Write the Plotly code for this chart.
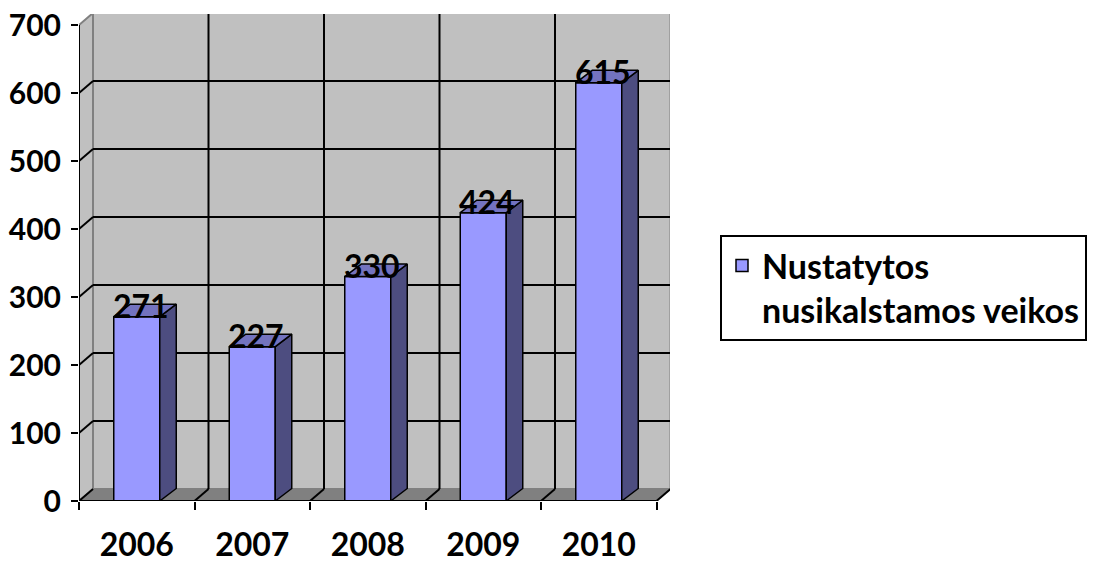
import plotly.graph_objects as go

years = ["2006", "2007", "2008", "2009", "2010"]
values = [271, 227, 330, 424, 615]
y_ticks = [0, 100, 200, 300, 400, 500, 600, 700]
series_name = "Nustatytos<br>nusikalstamos veikos"

# the page body has an 8px margin; all pixel positions below are compensated for it
OFF = 8
W, H = 1103 - OFF, 561 - OFF
L, R, T, B = 79 - OFF, 670 - OFF, 14 - OFF, 501 - OFF
cat_px = (656.5 - 79) / 5
unit_px = (501 - 25) / 700
x_range = [-0.5, -0.5 + (R - L) / cat_px]
y_range = [0, (B - T) / unit_px]
dx = 14 / cat_px
dy = 12 / unit_px
bdx = 16.5 / cat_px
bdy = 12.5 / unit_px
bw = 46 / cat_px
ymax = y_ticks[-1]
n = len(years)
x0, x1 = -0.5, n - 0.5

FONT = "Lato"
WALL = "#C0C0C0"
FLOOR = "#808080"
EDGE = "#808080"

shapes = []
shapes.append(dict(type="rect", xref="x", yref="y", x0=x0 + dx, x1=x1 + dx, y0=dy, y1=ymax + dy,
                   fillcolor=WALL, line=dict(color=EDGE, width=2), layer="below"))
shapes.append(dict(type="path", xref="x", yref="y",
                   path=f"M {x0},0 L {x0+dx},{dy} L {x0+dx},{ymax+dy} L {x0},{ymax} Z",
                   fillcolor=WALL, line=dict(color=EDGE, width=2), layer="below"))
shapes.append(dict(type="path", xref="x", yref="y",
                   path=f"M {x0},0 L {x1},0 L {x1+dx},{dy} L {x0+dx},{dy} Z",
                   fillcolor=FLOOR, line=dict(color=FLOOR, width=1), layer="below"))
for v in y_ticks[1:-1]:
    shapes.append(dict(type="line", xref="x", yref="y", x0=x0 + dx, x1=x1 + dx, y0=v + dy, y1=v + dy,
                       line=dict(color="black", width=2), layer="below"))
    shapes.append(dict(type="line", xref="x", yref="y", x0=x0, x1=x0 + dx, y0=v, y1=v + dy,
                       line=dict(color="black", width=2), layer="below"))
for i in range(1, n):
    b = i - 0.5
    shapes.append(dict(type="line", xref="x", yref="y", x0=b + dx, x1=b + dx, y0=dy, y1=ymax + dy,
                       line=dict(color="black", width=2), layer="below"))
for i in range(n + 1):
    b = i - 0.5
    shapes.append(dict(type="line", xref="x", yref="y", x0=b, x1=b + dx, y0=0, y1=dy,
                       line=dict(color="black", width=2), layer="below"))
shapes.append(dict(type="line", xref="x", yref="y", x0=x0, x1=x0, y0=0, y1=ymax,
                   line=dict(color="black", width=2), layer="above"))
shapes.append(dict(type="line", xref="x", yref="y", x0=x0, x1=x1, y0=0, y1=0,
                   line=dict(color="black", width=2), layer="above"))

fig = go.Figure()
xs_idx = list(range(n))
fig.add_trace(go.Bar(x=xs_idx, y=values, width=bw, name=series_name,
                     marker=dict(color="#9999FF", line=dict(color="black", width=1.5)),
                     hoverinfo="skip"))

sx, sy, tx, ty = [], [], [], []
for i, v in zip(xs_idx, values):
    r = i + bw / 2
    l = i - bw / 2
    sx += [r, r + bdx, r + bdx, r, r, None]
    sy += [0, bdy, v + bdy, v, 0, None]
    tx += [l, r, r + bdx, l + bdx, l, None]
    ty += [v, v, v + bdy, v + bdy, v, None]
fig.add_trace(go.Scatter(x=sx, y=sy, mode="lines", fill="toself", fillcolor="#4D4D80",
                         line=dict(color="black", width=1.5), showlegend=False, hoverinfo="skip"))
fig.add_trace(go.Scatter(x=tx, y=ty, mode="lines", fill="toself", fillcolor="#7373BF",
                         line=dict(color="black", width=1.5), showlegend=False, hoverinfo="skip"))

annotations = []
for i, v in zip(xs_idx, values):
    annotations.append(dict(x=i, y=v, xref="x", yref="y", text=str(v), showarrow=False,
                            xshift=4, yshift=11, yanchor="middle",
                            font=dict(family=FONT, size=32, color="black", weight="bold")))

fig.update_layout(
    template="none",
    width=W, height=H,
    margin=dict(l=L, r=W - R, t=T, b=H - B, pad=0),
    plot_bgcolor="white", paper_bgcolor="white",
    shapes=shapes, annotations=annotations,
    showlegend=True,
    legend=dict(x=(720 - 79) / (R - L), y=(501 - 235) / (B - T), xanchor="left", yanchor="top",
                bordercolor="black", borderwidth=2, bgcolor="white", valign="top",
                font=dict(family=FONT, size=34, color="black", weight="bold")),
    xaxis=dict(range=x_range, tickvals=xs_idx, ticktext=years, ticks="", showgrid=False,
               zeroline=False, showline=False, automargin=False, ticklabelstandoff=22,
               ticklabeloverflow="allow",
               tickfont=dict(family=FONT, size=32, color="black", weight="bold"),
               minor=dict(tickvals=[i - 0.5 for i in range(n + 1)], ticks="outside", ticklen=8,
                          tickwidth=2, tickcolor="black", showgrid=False)),
    yaxis=dict(range=y_range, tickvals=y_ticks, ticks="outside", ticklen=7, tickwidth=2,
               tickcolor="black", showgrid=False, zeroline=False, showline=False, automargin=False,
               ticklabelstandoff=4, ticklabeloverflow="allow",
               tickfont=dict(family=FONT, size=30, color="black", weight="bold")),
)

fig.write_html("out.html")
